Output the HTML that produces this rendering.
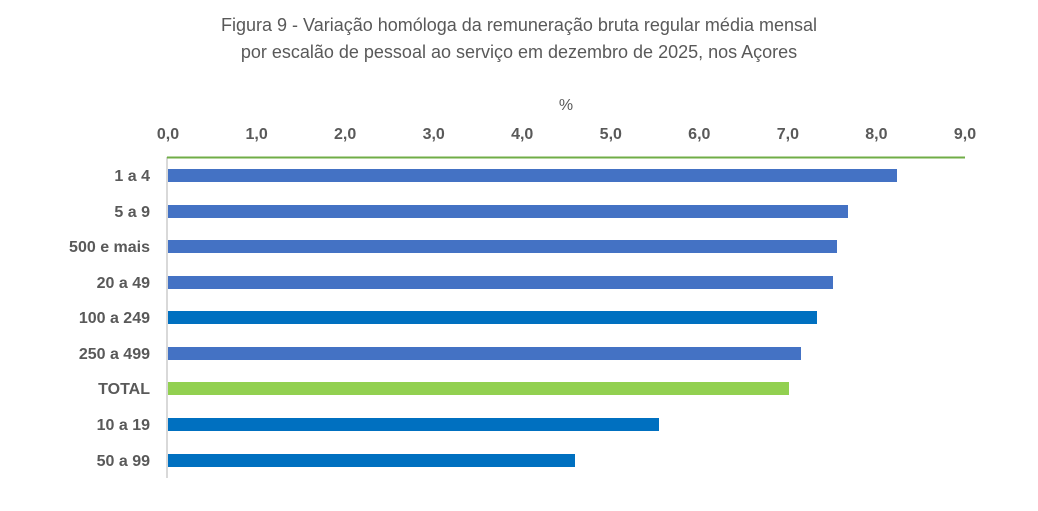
<!DOCTYPE html>
<html><head><meta charset="utf-8"><style>
body{margin:0;background:#fff;width:1038px;height:506px;overflow:hidden}
svg text{font-family:"Liberation Sans",sans-serif}
</style></head><body>
<svg width="1038" height="506" xmlns="http://www.w3.org/2000/svg">
<text x="519" y="31" text-anchor="middle" font-size="18" fill="#595959">Figura 9 - Variação homóloga da remuneração bruta regular média mensal</text>
<text x="519" y="58" text-anchor="middle" font-size="18" fill="#595959">por escalão de pessoal ao serviço em dezembro de 2025, nos Açores</text>
<text x="566" y="110" text-anchor="middle" font-size="16" fill="#595959">%</text>
<g font-size="16" font-weight="bold" fill="#595959" text-anchor="middle">
<text x="168" y="139">0,0</text><text x="256.6" y="139">1,0</text><text x="345.1" y="139">2,0</text><text x="433.7" y="139">3,0</text><text x="522.2" y="139">4,0</text><text x="610.8" y="139">5,0</text><text x="699.3" y="139">6,0</text><text x="787.9" y="139">7,0</text><text x="876.4" y="139">8,0</text><text x="965" y="139">9,0</text>
</g>
<line x1="167" y1="157" x2="167" y2="478" stroke="#d9d9d9" stroke-width="2"/>
<line x1="167" y1="157.5" x2="965" y2="157.5" stroke="#70ad47" stroke-width="2"/>
<g>
<rect x="168" y="169" width="729" height="13" fill="#4472c4"/>
<rect x="168" y="205" width="680" height="13" fill="#4472c4"/>
<rect x="168" y="240" width="669" height="13" fill="#4472c4"/>
<rect x="168" y="276" width="665" height="13" fill="#4472c4"/>
<rect x="168" y="311" width="649" height="13" fill="#0070c0"/>
<rect x="168" y="347" width="633" height="13" fill="#4472c4"/>
<rect x="168" y="382" width="621" height="13" fill="#92d050"/>
<rect x="168" y="418" width="491" height="13" fill="#0070c0"/>
<rect x="168" y="454" width="407" height="13" fill="#0070c0"/>
</g>
<g font-size="16" font-weight="bold" fill="#595959" text-anchor="end">
<text x="150" y="181">1 a 4</text><text x="150" y="217">5 a 9</text><text x="150" y="252">500 e mais</text><text x="150" y="288">20 a 49</text><text x="150" y="323">100 a 249</text><text x="150" y="359">250 a 499</text><text x="150" y="394">TOTAL</text><text x="150" y="430">10 a 19</text><text x="150" y="466">50 a 99</text>
</g>
</svg>
</body></html>
